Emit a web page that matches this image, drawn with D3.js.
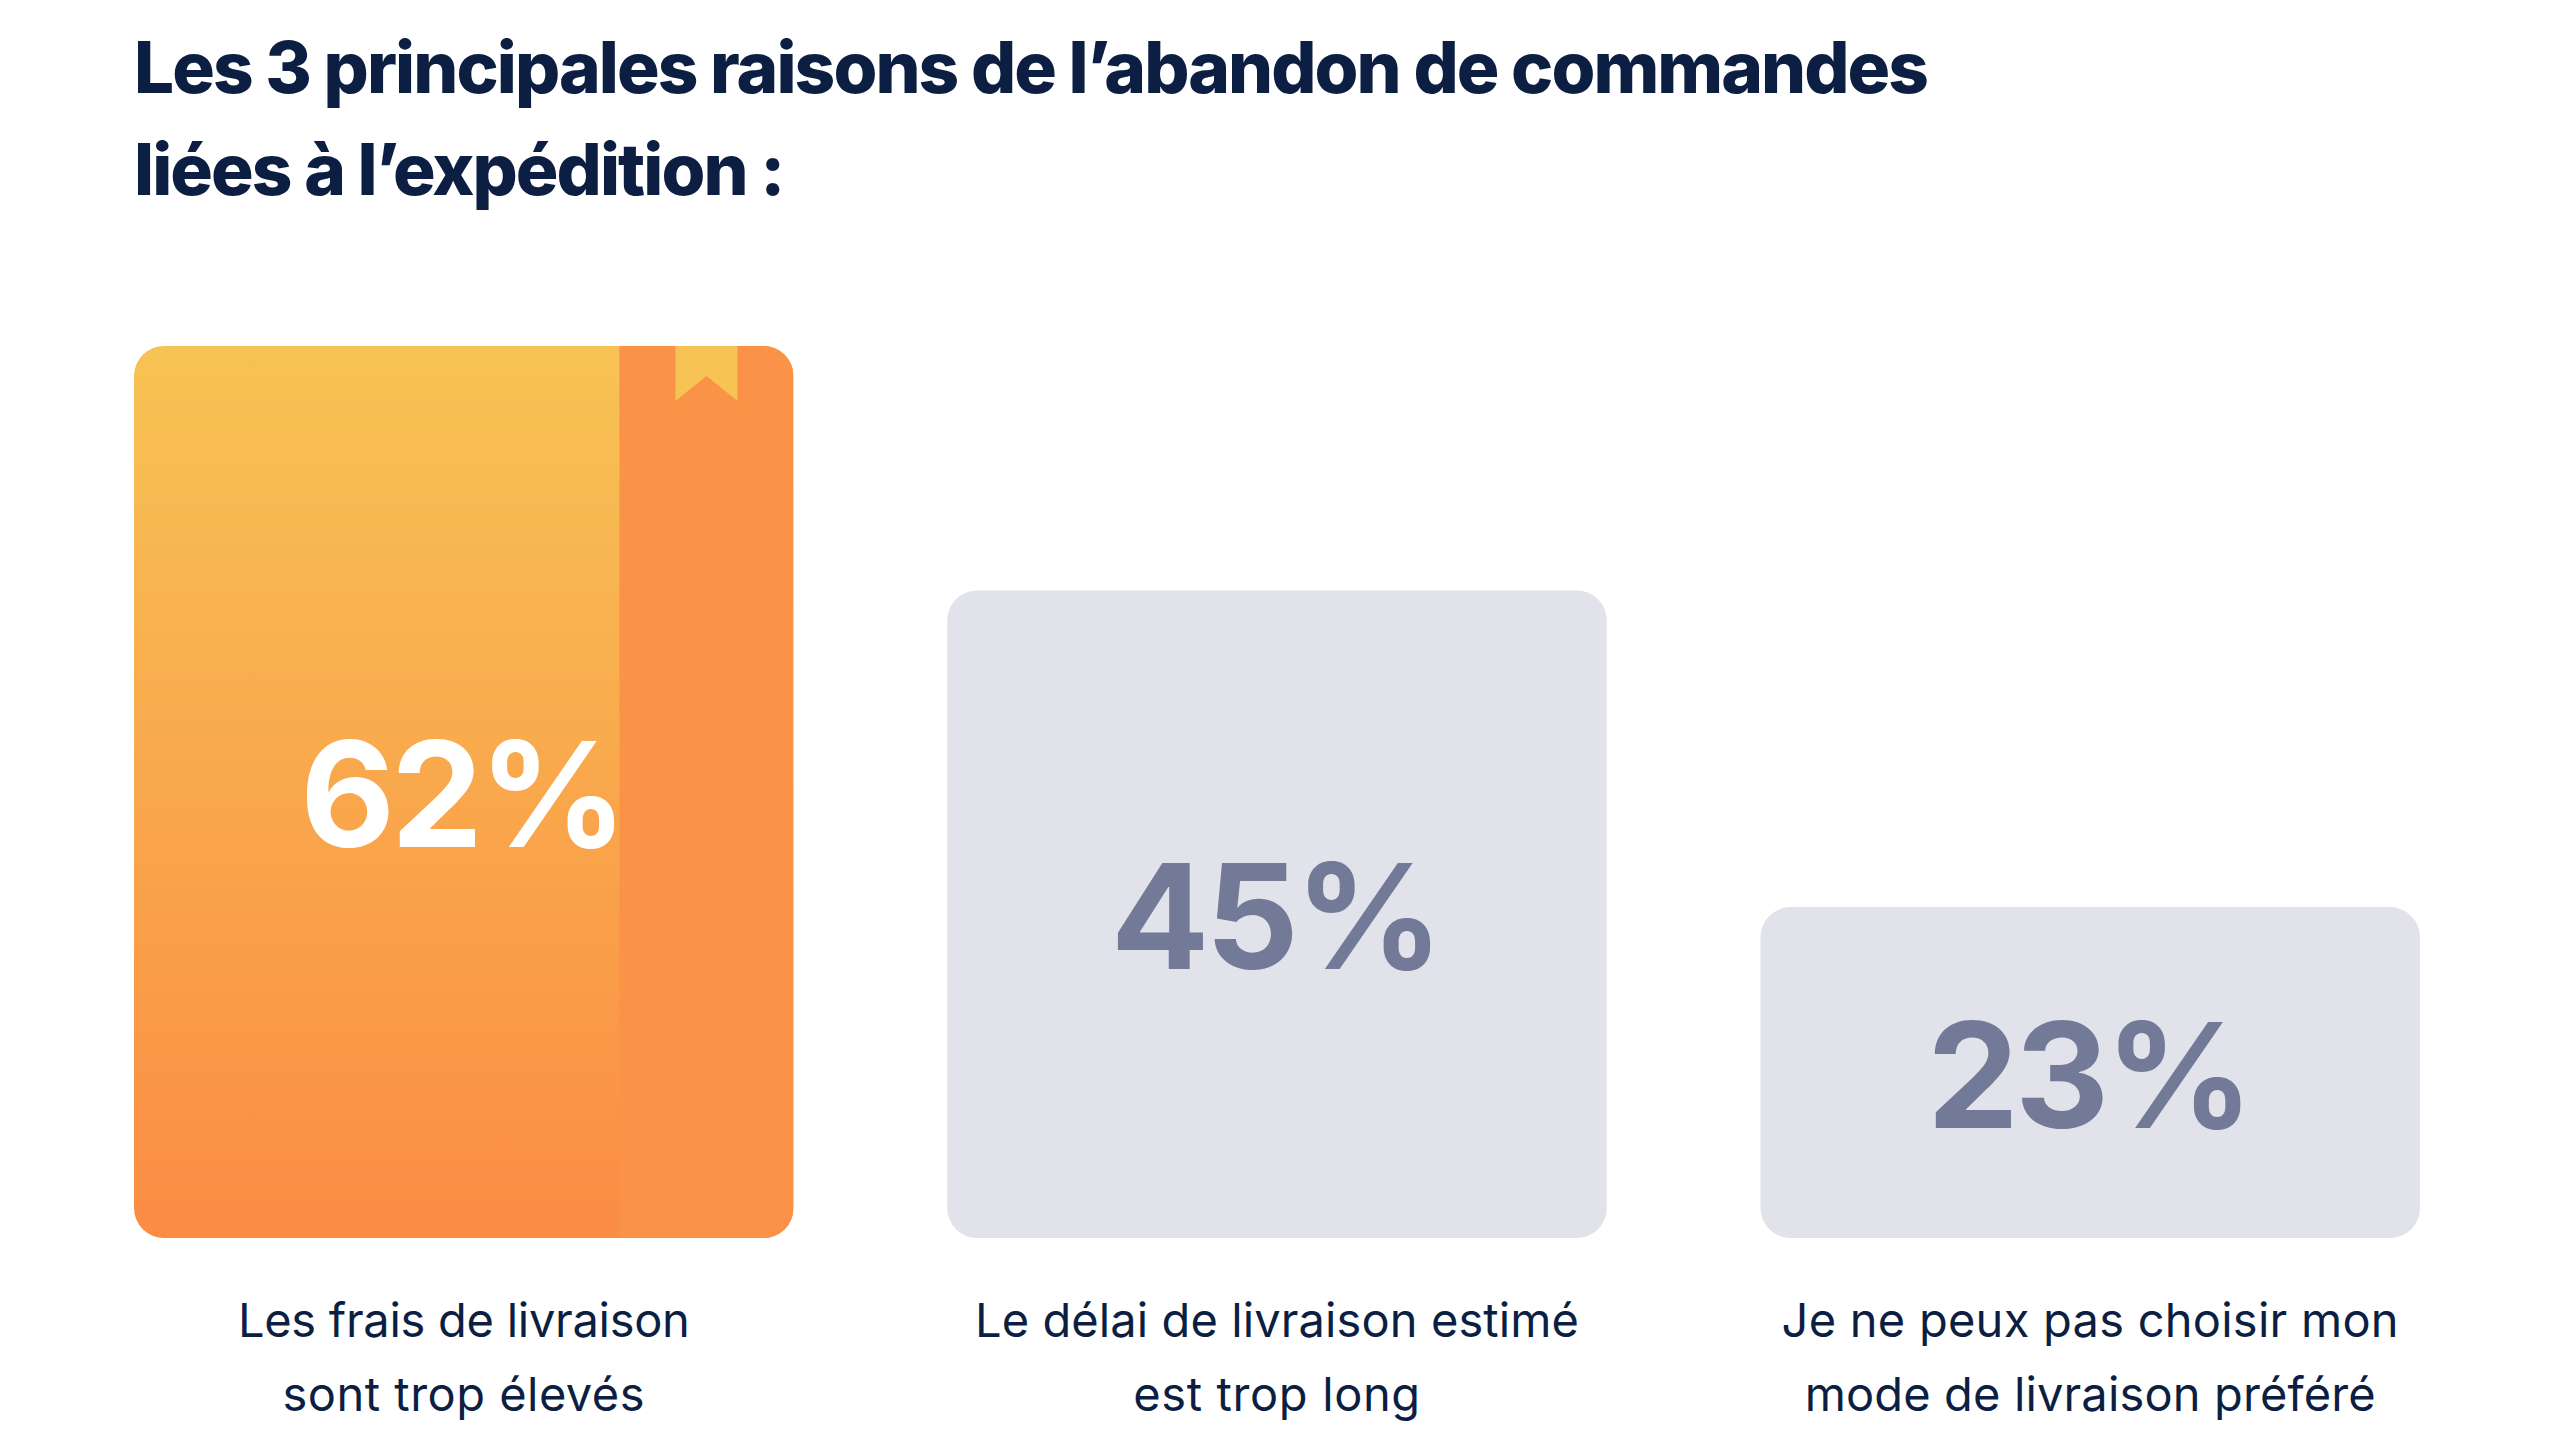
<!DOCTYPE html>
<html>
<head>
<meta charset="utf-8">
<script src="https://cdn.jsdelivr.net/npm/d3@7"></script>
<style>
  html, body { margin: 0; padding: 0; background: #ffffff; }
  svg { display: block; }
</style>
</head>
<body>
<svg id="chart" width="2560" height="1440"></svg>
<script>
// ---- data ----
const titleLines = ["Les 3 principales raisons de l’abandon de commandes", "liées à l’expédition :"];
const categories = ["frais", "delai", "mode"];
const labelLines = [
  ["Les frais de livraison", "sont trop élevés"],
  ["Le délai de livraison estimé", "est trop long"],
  ["Je ne peux pas choisir mon", "mode de livraison préféré"]
];
const values = [62, 45, 23];
const highlighted = [true, false, false];

// ---- layout (styling only) ----
const left = 134, right = 2420, baseY = 1238, topY = 346;
const navy = "#0c1f43";
const labelTargetWidths = [[452, 362], [604, 287], [617, 571]];

const svg = d3.select("#chart");
const defs = svg.append("defs");

const x = d3.scaleBand().domain(categories).range([left, right]).paddingInner(0.189).paddingOuter(0);
const y = d3.scaleLinear().domain([0, d3.max(values)]).range([baseY, topY]);

const grad = defs.append("linearGradient").attr("id", "orangeGrad")
  .attr("x1", 0).attr("y1", 0).attr("x2", 0).attr("y2", 1);
grad.append("stop").attr("offset", "0%").attr("stop-color", "#f7c354");
grad.append("stop").attr("offset", "100%").attr("stop-color", "#fb8c44");

function fitSpacing(sel, target) {
  const w = sel.node().getComputedTextLength();
  const n = sel.text().length;
  const ls = (target - w) / (n - 1);
  sel.attr("letter-spacing", ls);
  return ls;
}

// ---- title ----
const title = svg.append("g");
const t1 = title.append("text").attr("x", left).attr("y", 93)
  .attr("font-family", "Inter, 'Liberation Sans', sans-serif").attr("font-weight", 800)
  .attr("font-size", 71).attr("fill", navy).text(titleLines[0]);
const ls = fitSpacing(t1, 1795);
title.append("text").attr("x", left).attr("y", 195)
  .attr("font-family", "Inter, 'Liberation Sans', sans-serif").attr("font-weight", 800)
  .attr("font-size", 71).attr("fill", navy).attr("letter-spacing", ls).text(titleLines[1]);

// ---- bars ----
const data = categories.map((c, i) => ({ c, v: values[i], lines: labelLines[i], hl: highlighted[i], i }));
const rx = 30;

const g = svg.append("g").selectAll("g.bar").data(data).join("g").attr("class", "bar");

g.each(function(d) {
  const gg = d3.select(this);
  const bx = x(d.c), bw = x.bandwidth(), by = y(d.v), bh = y(0) - y(d.v);
  if (d.hl) {
    const cid = "clip" + d.i;
    defs.append("clipPath").attr("id", cid)
      .append("rect").attr("x", bx).attr("y", by).attr("width", bw).attr("height", bh).attr("rx", rx).attr("ry", rx);
    const cg = gg.append("g").attr("clip-path", `url(#${cid})`);
    cg.append("rect").attr("x", bx).attr("y", by).attr("width", bw).attr("height", bh).attr("fill", "url(#orangeGrad)");
    const sx = bx + bw * 0.736, sw = bx + bw - sx;
    cg.append("rect").attr("x", sx).attr("y", by).attr("width", sw).attr("height", bh).attr("fill", "#fa9247");
    const cx = sx + sw / 2, hw = 31, bkH = 55, notch = 25;
    cg.append("path")
      .attr("d", `M${cx - hw},${by} L${cx + hw},${by} L${cx + hw},${by + bkH} L${cx},${by + bkH - notch} L${cx - hw},${by + bkH} Z`)
      .attr("fill", "#f7c354");
  } else {
    gg.append("rect").attr("x", bx).attr("y", by).attr("width", bw).attr("height", bh)
      .attr("rx", rx).attr("ry", rx).attr("fill", "#e1e2ea");
  }
  const fs = 146;
  gg.append("text")
    .attr("x", bx + bw / 2 - 2)
    .attr("y", by + bh / 2 + fs * 0.727 / 2 + 2)
    .attr("text-anchor", "middle")
    .attr("font-family", "Inter, 'Liberation Sans', sans-serif")
    .attr("font-weight", 700)
    .attr("font-size", fs)
    .attr("letter-spacing", -4)
    .attr("fill", d.hl ? "#ffffff" : "#737a98")
    .text(d.v + "%");
});

// ---- category labels ----
const labelG = svg.append("g");
data.forEach(d => {
  d.lines.forEach((line, j) => {
    const t = labelG.append("text")
      .attr("x", x(d.c) + x.bandwidth() / 2)
      .attr("y", 1337 + j * 74)
      .attr("text-anchor", "middle")
      .attr("font-family", "Inter, 'Liberation Sans', sans-serif")
      .attr("font-weight", 400)
      .attr("font-size", 47)
      .attr("fill", navy)
      .text(line);
    fitSpacing(t, labelTargetWidths[d.i][j]);
  });
});
</script>
</body>
</html>
